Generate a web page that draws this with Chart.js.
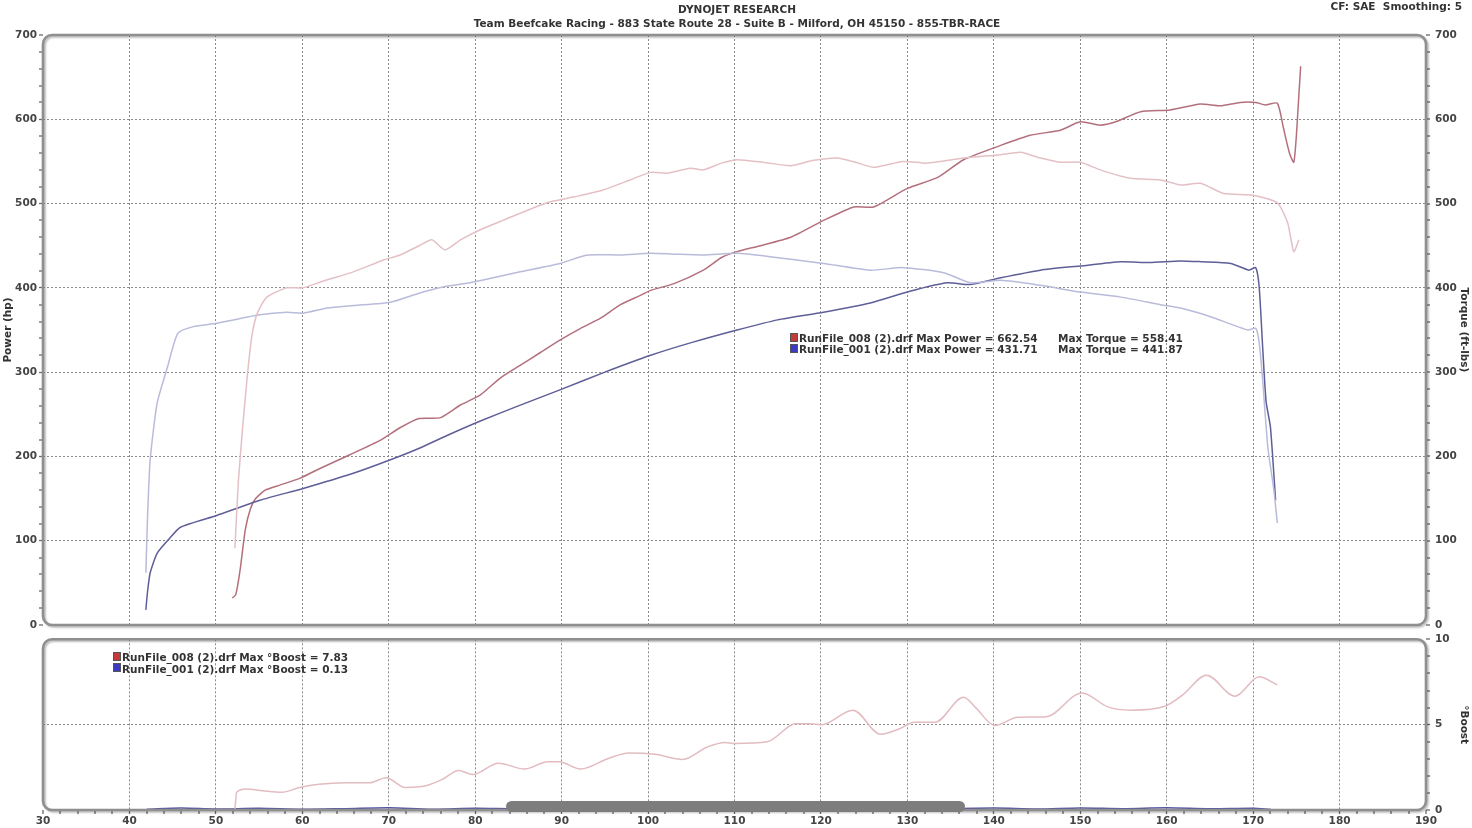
<!DOCTYPE html>
<html>
<head>
<meta charset="utf-8">
<script src="https://cdn.jsdelivr.net/npm/chart.js@4.4.1/dist/chart.umd.min.js"></script>
<style>
html,body{margin:0;padding:0;background:#fff;width:1472px;height:828px;overflow:hidden;font-family:"DejaVu Sans",Verdana,sans-serif;}
#cA{position:absolute;left:0;top:0;}
#cB{position:absolute;left:0;top:628px;}
.t{position:absolute;font-weight:bold;font-size:10.5px;color:#333;white-space:pre;line-height:12px;z-index:5;}
.box{position:absolute;width:6px;height:7px;border:1px solid #555;z-index:5;}
#scrub{position:absolute;left:506px;top:801px;width:459px;height:11px;background:#7d7d7d;border-radius:6px;z-index:6;}
</style>
</head>
<body>
<canvas id="cA" width="1472" height="640" style="width:1472px;height:640px"></canvas>
<canvas id="cB" width="1472" height="200" style="width:1472px;height:200px"></canvas>

<div class="t" style="left:0;width:1474px;text-align:center;top:3px;">DYNOJET RESEARCH</div>
<div class="t" style="left:0;width:1474px;text-align:center;top:17px;">Team Beefcake Racing - 883 State Route 28 - Suite B - Milford, OH 45150 - 855-TBR-RACE</div>
<div class="t" style="right:10px;top:0px;">CF: SAE  Smoothing: 5</div>

<div class="box" style="left:790px;top:333px;background:#c23a3a;"></div>
<div class="t" style="left:799px;top:332px;">RunFile_008 (2).drf Max Power = 662.54</div>
<div class="t" style="left:1058px;top:332px;">Max Torque = 558.41</div>
<div class="box" style="left:790px;top:344px;background:#3a3ac2;"></div>
<div class="t" style="left:799px;top:343px;">RunFile_001 (2).drf Max Power = 431.71</div>
<div class="t" style="left:1058px;top:343px;">Max Torque = 441.87</div>

<div class="box" style="left:113px;top:652px;background:#c23a3a;"></div>
<div class="t" style="left:122px;top:651px;">RunFile_008 (2).drf Max °Boost = 7.83</div>
<div class="box" style="left:113px;top:663px;background:#3a3ac2;"></div>
<div class="t" style="left:122px;top:663px;">RunFile_001 (2).drf Max °Boost = 0.13</div>

<div id="scrub"></div>

<script>
// ---------- DATA ----------
const xTickValues = [30,40,50,60,70,80,90,100,110,120,130,140,150,160,170,180,190];

// RunFile_008 power (hp) vs speed (mph)
const pw008Mph = [51.9,52.3,52.8,53.4,54.0,54.6,55.7,57.4,59.7,62.1,65.5,69.0,71.3,73.5,76.0,78.3,80.6,82.9,85.2,87.5,89.8,92.2,94.5,96.8,99.1,100.3,103.0,106.4,108.5,110.3,113.0,116.5,120.3,123.8,126.1,130.0,133.5,136.5,140.8,144.2,147.7,150.0,152.3,154.1,157.0,160.4,163.9,166.2,168.5,170.3,171.4,172.8,173.5,174.2,174.7,175.0,175.3,175.5];
const pw008Hp  = [32,36,65,113,138,150,160,166,174,186,202,219,234,245,246,261,273,293,308,323,338,352,364,380,391,397,405,421,436,443,450,460,480,496,496,518,531,552,569,581,587,597,593,597,609,611,618,616,620,620,617,619,590,560,549,580,630,663];

// RunFile_008 torque (ft-lbs)
const tq008Mph = [52.2,52.6,53.1,53.7,54.2,54.8,55.9,58.2,60.1,62.1,65.9,69.4,71.3,73.5,75.0,76.5,78.3,80.6,83.2,88.3,91.5,94.8,97.9,100.3,102.2,104.9,106.4,108.5,110.3,113.3,116.5,119.0,121.9,124.0,126.1,129.5,132.3,136.5,140.8,143.1,145.4,147.7,150.0,152.3,155.8,159.3,161.6,163.9,166.6,170.0,172.8,174.0,174.7,175.3];
const tq008Ft  = [91,170,235,302,345,370,389,400,400,407,419,433,439,450,457,445,457,469,480,501,508,516,528,537,536,542,540,548,552,549,545,551,554,549,543,550,548,554,558,561,554,549,549,540,530,528,522,524,512,510,501,477,443,457];

// RunFile_001 power (hp)
const pw001Mph = [41.9,42.1,42.4,43.2,44.5,45.9,50.1,55.1,60.1,65.9,70.2,73.6,77.0,80.6,85.0,89.8,95.0,100.3,105.0,110.3,115.0,120.3,125.7,130.3,134.6,137.3,140.8,145.4,150.0,154.7,158.0,161.6,164.0,167.4,169.5,170.3,170.7,171.1,171.5,172.0,172.6];
const pw001Hp  = [18,40,62,85,101,116,130,148,162,180,196,210,226,242,260,279,300,320,335,350,362,371,382,396,406,404,412,421,426,431,430,432,431,429,421,424,401,330,265,235,148];

// RunFile_001 torque (ft-lbs)
const tq001Mph = [41.9,42.1,42.4,43.2,44.4,45.6,47.4,50.1,55.1,58.2,60.1,62.9,66.0,70.2,73.6,76.3,79.4,85.2,89.8,93.0,96.8,100.3,103.0,106.4,110.3,114.1,120.3,125.7,129.5,134.2,137.3,140.8,145.4,150.0,154.7,159.3,161.6,165.0,169.4,170.3,170.7,171.1,171.7,172.4,172.8];
const tq001Ft  = [62,130,196,263,306,346,354,358,368,371,370,376,379,383,394,401,406,419,429,439,439,441,440,439,441,437,429,421,424,418,406,409,403,395,389,380,376,366,350,352,335,291,211,160,121];

// RunFile_008 boost (psi)
const bst008Mph = [52.2,52.4,53.5,55.4,57.6,59.7,61.9,65.1,67.8,69.7,71.9,74.3,76.2,78.1,79.7,82.7,85.7,88.4,89.7,92.2,95.4,97.8,100.8,104.0,106.8,108.9,110.0,113.8,117.1,118.7,120.1,123.7,126.9,129.1,130.8,133.2,136.5,137.9,140.1,142.8,146.1,150.2,153.2,155.9,159.7,161.9,164.6,167.9,170.7,172.8];
const bst008Psi = [0,1.04,1.23,1.13,1.04,1.32,1.51,1.60,1.60,1.89,1.32,1.42,1.79,2.32,2.08,2.74,2.40,2.83,2.83,2.40,3.02,3.34,3.26,2.96,3.68,3.96,3.90,4.00,5.05,5.05,5.00,5.85,4.44,4.76,5.14,5.14,6.60,6.00,4.95,5.43,5.47,6.86,6.04,5.85,6.06,6.76,7.90,6.67,7.81,7.33];

// RunFile_001 boost (psi)
const bst001Mph = [42,46,50,55,60,65,70,75,80,85,90,95,100,110,120,130,140,145,150,155,160,165,170,172];
const bst001Psi = [0.05,0.12,0.06,0.10,0.04,0.08,0.13,0.05,0.10,0.07,0.12,0.05,0.08,0.06,0.10,0.05,0.11,0.06,0.12,0.08,0.13,0.07,0.10,0.04];

// ---------- STYLE ----------
const FONT = {family:'"DejaVu Sans", Verdana, sans-serif', size:10.5, weight:'bold'};
const GRID = '#8a8a8a';
const pts = (xs, ys) => xs.map((x,i)=>({x:x, y:ys[i]}));

const framePlugin = {
  id:'frame',
  afterDatasetsDraw(chart){
    const {ctx, chartArea:a} = chart;
    ctx.save();
    ctx.shadowColor='rgba(0,0,0,0.28)'; ctx.shadowBlur=2; ctx.shadowOffsetX=1.5; ctx.shadowOffsetY=1.5;
    ctx.strokeStyle='#8f8f8f'; ctx.lineWidth=2.6;
    ctx.beginPath();
    ctx.roundRect(a.left, a.top, a.right-a.left, a.bottom-a.top, 9);
    ctx.stroke();
    ctx.restore();
  }
};

function yAxis(pos, min, max, step, labelEvery, gridEvery, title, width, onArea){
  return {
    type:'linear', position:pos, min:min, max:max,
    ticks:{stepSize:step, autoSkip:false, padding:pos==='left'?2:5, color:'#444', font:FONT,
      callback:v => (Math.abs(v % labelEvery) < 1e-9 ? String(v) : '')},
    grid:{drawOnChartArea:onArea, color:GRID,
      lineWidth:c => (c.tick && gridEvery && Math.abs(c.tick.value % gridEvery) < 1e-9 && c.tick.value!==min && c.tick.value!==max) ? 1 : 0,
      tickColor:'#6a6a6a', tickWidth:1.3, tickLength:4, tickBorderDash:[]},
    border:{display:false, dash:[2,2]},
    title:{display:!!title, text:title, color:'#333', font:FONT, padding:{top:2,bottom:2}},
    afterFit:s => { s.width = width; }
  };
}

// ---------- TOP CHART ----------
new Chart(document.getElementById('cA'), {
  type:'line',
  data:{datasets:[
    {label:'RunFile_008 Torque', data:pts(tq008Mph,tq008Ft), yAxisID:'y1', borderColor:'#e4c0c5'},
    {label:'RunFile_001 Torque', data:pts(tq001Mph,tq001Ft), yAxisID:'y1', borderColor:'#b9bbda'},
    {label:'RunFile_001 Power', data:pts(pw001Mph,pw001Hp), yAxisID:'y', borderColor:'#5e5e98'},
    {label:'RunFile_008 Power', data:pts(pw008Mph,pw008Hp), yAxisID:'y', borderColor:'#b3707c'}
  ]},
  options:{
    responsive:false, animation:false, events:[],
    layout:{padding:{top:35,bottom:15,left:0,right:0}},
    plugins:{legend:{display:false}, tooltip:{enabled:false}},
    elements:{point:{radius:0}, line:{borderWidth:1.5, tension:0.2}},
    scales:{
      x:{type:'linear', min:30, max:190,
        ticks:{display:false, stepSize:10, autoSkip:false},
        grid:{color:GRID, lineWidth:c => (c.tick && (c.tick.value===30 || c.tick.value===190)) ? 0 : 1, drawTicks:false},
        border:{display:false, dash:[2,2]},
        afterFit:s => { s.height = 0; }},
      y: yAxis('left', 0, 700, 20, 100, 100, 'Power (hp)', 43, true),
      y1: yAxis('right', 0, 700, 20, 100, 0, 'Torque (ft-lbs)', 46, false)
    }
  },
  plugins:[framePlugin]
});

// ---------- BOOST CHART ----------
new Chart(document.getElementById('cB'), {
  type:'line',
  data:{datasets:[
    {label:'RunFile_008 Boost', data:pts(bst008Mph,bst008Psi), borderColor:'#e2bcc1', cubicInterpolationMode:'monotone'},
    {label:'RunFile_001 Boost', data:pts(bst001Mph,bst001Psi), borderColor:'#55559e'}
  ]},
  options:{
    responsive:false, animation:false, events:[],
    layout:{padding:{top:6,bottom:0,left:43,right:0}},
    plugins:{legend:{display:false}, tooltip:{enabled:false}},
    elements:{point:{radius:0}, line:{borderWidth:1.5, tension:0.3}},
    scales:{
      x:{type:'linear', min:30, max:190,
        ticks:{stepSize:2, autoSkip:false, maxRotation:0, padding:1, color:'#444', font:FONT,
          callback:v => (xTickValues.includes(v) ? String(v) : '')},
        grid:{color:GRID, lineWidth:c => (c.tick && c.tick.value%10===0 && c.tick.value!==30 && c.tick.value!==190) ? 1 : 0,
          tickColor:'#6a6a6a', tickWidth:1.3, tickLength:4, tickBorderDash:[]},
        border:{display:false, dash:[2,2]},
        afterFit:s => { s.height = 18; }},
      y: yAxis('right', 0, 10, 1, 5, 5, '°Boost', 46, true)
    }
  },
  plugins:[framePlugin]
});
</script>
</body>
</html>
